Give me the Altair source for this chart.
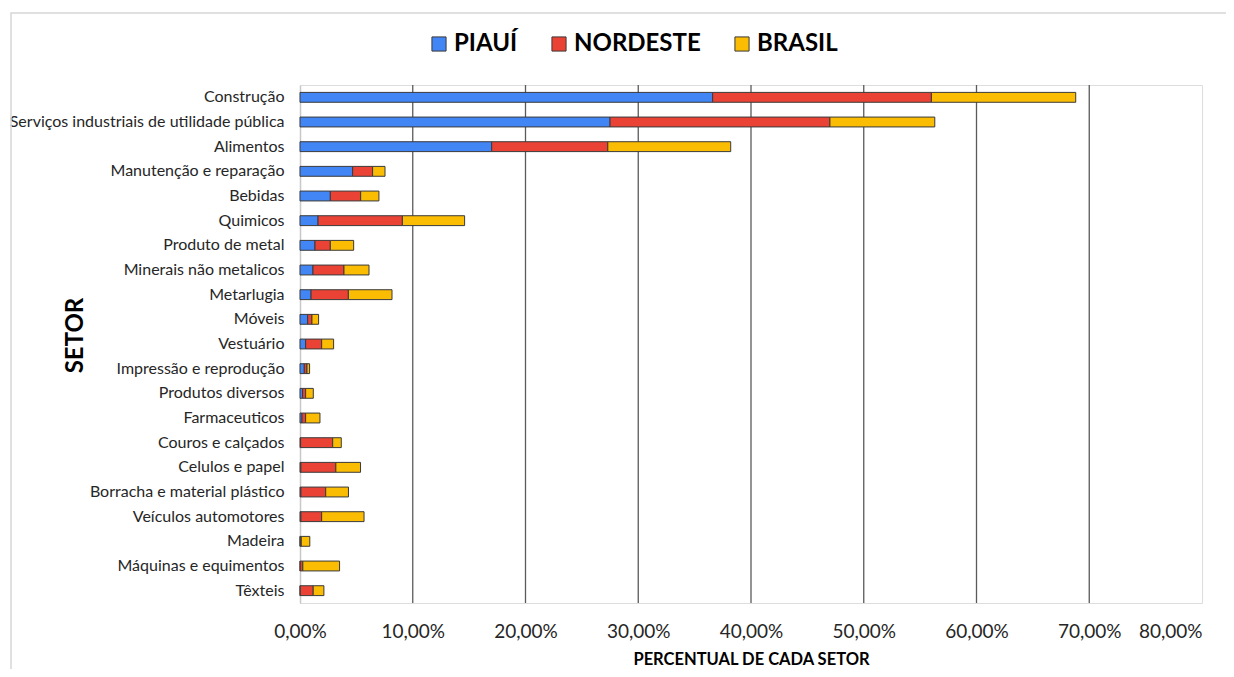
import altair as alt
import pandas as pd

sectors = [
    "Construção", "Serviços industriais de utilidade pública", "Alimentos",
    "Manutenção e reparação", "Bebidas", "Quimicos", "Produto de metal",
    "Minerais não metalicos", "Metarlugia", "Móveis", "Vestuário",
    "Impressão e reprodução", "Produtos diversos", "Farmaceuticos",
    "Couros e calçados", "Celulos e papel", "Borracha e material plástico",
    "Veículos automotores", "Madeira", "Máquinas e equimentos", "Têxteis",
]
piaui = [36.6, 27.5, 17.0, 4.67, 2.69, 1.60, 1.33, 1.15, 0.98, 0.68, 0.50,
         0.38, 0.23, 0.18, 0.05, 0.08, 0.08, 0.08, 0.02, 0.02, 0.02]
nordeste = [19.4, 19.5, 10.3, 1.77, 2.69, 7.48, 1.36, 2.75, 3.31, 0.38, 1.42,
            0.24, 0.27, 0.32, 2.85, 3.10, 2.20, 1.84, 0.09, 0.23, 1.15]
brasil = [12.8, 9.3, 10.9, 1.10, 1.62, 5.52, 2.07, 2.22, 3.87, 0.59, 1.06,
          0.23, 0.68, 1.27, 0.76, 2.19, 2.02, 3.76, 0.76, 3.26, 0.95]
series = ["PIAUÍ", "NORDESTE", "BRASIL"]
colors = ["#4285F4", "#EA4335", "#FBBC04"]
grid_values = [10, 20, 30, 40, 50, 60, 70]
tick_values = [0, 10, 20, 30, 40, 50, 60, 70, 80]

rows = []
for i, s in enumerate(sectors):
    for k, (name, vals) in enumerate(zip(series, [piaui, nordeste, brasil])):
        rows.append({"setor": s, "serie": name, "valor": vals[i], "ordem": k})
df = pd.DataFrame(rows)

FONT = "Lato"

x_scale = alt.Scale(domain=[0, 80], nice=False)
x_axis = alt.Axis(
    values=tick_values, grid=False, ticks=False, domain=False,
    labelFlush=False, labelOverlap=False,
    labelAlign=alt.condition(alt.datum.value >= 80, alt.value("right"), alt.value("center")),
    labelExpr="replace(format(datum.value, '.2f'), '.', ',') + '%'",
    labelFont=FONT, labelFontSize=19, labelColor="#262626", labelPadding=19,
    title="PERCENTUAL DE CADA SETOR", titleFont=FONT, titleFontSize=16.5,
    titleFontWeight="bold", titleColor="#000000", titlePadding=10,
)

grid = alt.Chart(pd.DataFrame({"g": grid_values})).mark_rule(
    color="#5a5a5a", strokeWidth=1.3
).encode(x=alt.X("g:Q", scale=x_scale, axis=x_axis, title="PERCENTUAL DE CADA SETOR"))

frame = alt.Chart(pd.DataFrame({"a": [0]})).mark_rect(
    fillOpacity=0, stroke="#d6d6d6", strokeWidth=1.5
).encode(
    x=alt.value(-289), x2=alt.value(1000),
    y=alt.value(-72), y2=alt.value(700),
)

bars = alt.Chart(df).mark_bar(stroke="#3a3a3a", strokeWidth=1).encode(
    y=alt.Y(
        "setor:N", sort=sectors,
        scale=alt.Scale(paddingInner=0.6, paddingOuter=0.3),
        axis=alt.Axis(
            title="SETOR", titleFont=FONT, titleFontSize=24, titleFontWeight="bold",
            titleColor="#000000", titleX=-225, titleY=250, titleAngle=-90,
            titleAlign="center", titleBaseline="middle",
            labelFont=FONT, labelFontSize=16, labelColor="#262626", labelLimit=500,
            labelPadding=16, ticks=False, domain=True, domainColor="#c8c8c8",
            domainWidth=1.5,
        ),
    ),
    x=alt.X("valor:Q", stack="zero", scale=x_scale, axis=x_axis,
            title="PERCENTUAL DE CADA SETOR"),
    color=alt.Color(
        "serie:N",
        scale=alt.Scale(domain=series, range=colors),
        legend=alt.Legend(
            title=None, orient="none", legendX=127, legendY=-53,
            direction="horizontal", columns=3, columnPadding=29,
            symbolType="square", symbolSize=200, symbolStrokeColor="#3a3a3a",
            symbolStrokeWidth=1, labelFont=FONT, labelFontSize=24,
            labelFontWeight="bold", labelColor="#000000", labelOffset=3,
        ),
    ),
    order=alt.Order("ordem:Q"),
)

chart = alt.layer(frame, grid, bars).properties(
    width=902, height=518,
    autosize=alt.AutoSizeParams(type="none"),
    padding={"left": 292, "top": 77, "right": 24, "bottom": 66},
).configure_view(stroke="#8a8a8a", strokeWidth=1.5).configure(background="white")

chart.save("out.html", embed_options={"renderer": "svg", "actions": False})
